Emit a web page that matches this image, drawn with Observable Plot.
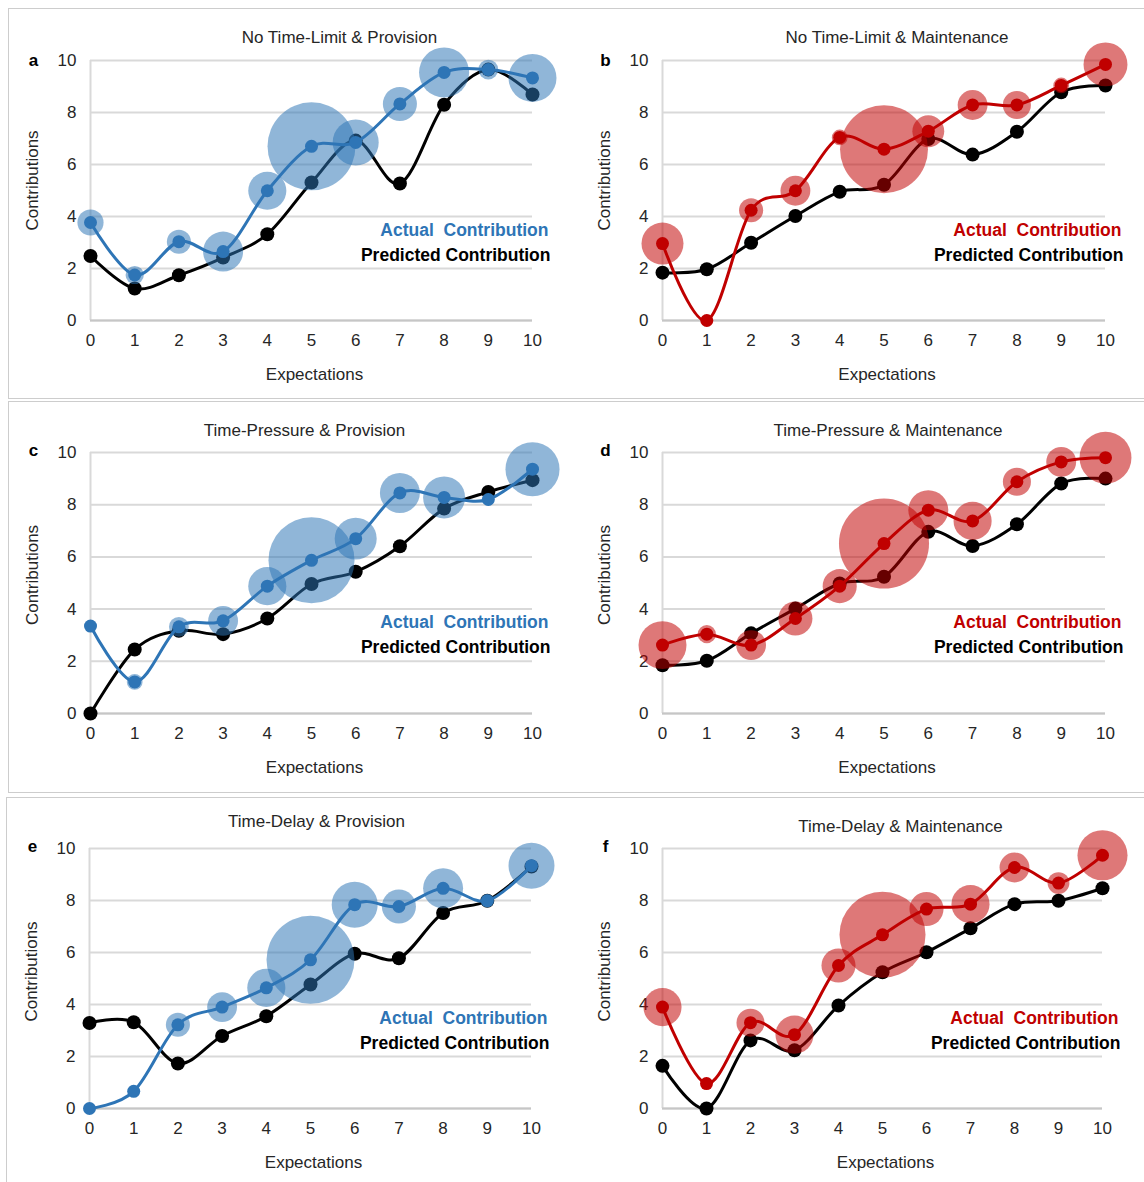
<!DOCTYPE html>
<html>
<head>
<meta charset="utf-8">
<script src="https://cdn.jsdelivr.net/npm/d3@7"></script>
<script src="https://cdn.jsdelivr.net/npm/@observablehq/plot@0.6"></script>
<style>
  body { margin: 0; background: #fff; font-family: "Liberation Sans", Arial, sans-serif; }
  #root { position: relative; width: 1144px; height: 1182px; overflow: hidden; background: #fff; }
  .box { position: absolute; border: 1.5px solid #cdcdcd; box-sizing: border-box; }
  .panel { position: absolute; width: 572px; }
  .panel svg { display: block; overflow: visible; }
</style>
</head>
<body>
<div id="root"></div>
<script>
// ---------- data ----------
const expectations = [0, 1, 2, 3, 4, 5, 6, 7, 8, 9, 10];
const yTicks = [0, 2, 4, 6, 8, 10];
const panelLetters = ["a", "b", "c", "d", "e", "f"];
const panelTitles = [
  "No Time-Limit & Provision", "No Time-Limit & Maintenance",
  "Time-Pressure & Provision", "Time-Pressure & Maintenance",
  "Time-Delay & Provision", "Time-Delay & Maintenance"
];
const xLabel = "Expectations";
const yLabel = "Contributions";
const actualLabel = "Actual  Contribution";
const predictedLabel = "Predicted Contribution";

// Actual contributions (coloured line), predicted (black line), share of participants (bubble size, %)
const actualA    = [3.77, 1.75, 3.03, 2.65, 4.99, 6.70, 6.85, 8.33, 9.54, 9.65, 9.33];
const predictedA = [2.48, 1.23, 1.74, 2.42, 3.32, 5.31, 6.92, 5.27, 8.30, 9.65, 8.69];
const shareA     = [3.3, 1.6, 2.8, 7.7, 7.0, 37.3, 10.2, 5.6, 12.1, 1.9, 11.1];

const actualB    = [2.96, 0.00, 4.24, 4.99, 7.04, 6.59, 7.28, 8.29, 8.29, 9.04, 9.85];
const predictedB = [1.84, 1.97, 2.99, 4.02, 4.95, 5.22, 6.98, 6.38, 7.26, 8.78, 9.04];
const shareB     = [8.5, 0.5, 2.8, 4.3, 1.2, 37.3, 4.9, 4.3, 3.8, 1.2, 9.3];

const actualC    = [3.35, 1.21, 3.32, 3.55, 4.88, 5.87, 6.70, 8.45, 8.28, 8.20, 9.36];
const predictedC = [0.00, 2.45, 3.17, 3.04, 3.64, 4.96, 5.43, 6.41, 7.85, 8.49, 8.94];
const shareC     = [0.5, 1.2, 1.9, 4.3, 7.0, 35.7, 8.5, 7.7, 8.5, 0.7, 14.1];

const actualD    = [2.62, 3.04, 2.62, 3.64, 4.88, 6.51, 7.79, 7.38, 8.88, 9.64, 9.80];
const predictedD = [1.85, 2.02, 3.07, 4.02, 4.98, 5.24, 6.96, 6.42, 7.25, 8.81, 9.00];
const shareD     = [11.1, 1.6, 4.3, 5.6, 5.6, 39.1, 7.7, 7.0, 3.8, 4.3, 13.0];

const actualE    = [0.00, 0.66, 3.22, 3.90, 4.64, 5.72, 7.84, 7.77, 8.47, 7.99, 9.34];
const predictedE = [3.29, 3.32, 1.73, 2.79, 3.55, 4.77, 5.95, 5.78, 7.52, 7.99, 9.31];
const shareE     = [0.5, 0.5, 2.8, 4.3, 7.0, 37.3, 10.2, 5.6, 7.7, 0.9, 10.2];

const actualF    = [3.90, 0.96, 3.30, 2.84, 5.50, 6.68, 7.67, 7.86, 9.27, 8.67, 9.74];
const predictedF = [1.64, 0.00, 2.62, 2.24, 3.96, 5.24, 6.01, 6.93, 7.86, 7.99, 8.47];
const shareF     = [7.0, 0.5, 3.8, 7.0, 5.6, 35.7, 5.6, 7.0, 4.3, 2.3, 12.1];

const actualSeries = [actualA, actualB, actualC, actualD, actualE, actualF];
const predictedSeries = [predictedA, predictedB, predictedC, predictedD, predictedE, predictedF];
const shareSeries = [shareA, shareB, shareC, shareD, shareE, shareF];

// ---------- styling / layout ----------
const BLUE = "#2e75b6";
const RED = "#c00000";
const colors = [BLUE, RED, BLUE, RED, BLUE, RED];
const FONT = "'Liberation Sans', Arial, sans-serif";

const rowsLayout = [
  { top: 0,   h: 400, mt: 60, mb: 80 },
  { top: 400, h: 395, mt: 52, mb: 82 },
  { top: 795, h: 387, mt: 53, mb: 74 }
];
const panelLayout = [
  { ml: 90, mr: 40, tdx: 28, tdy: -22.7, ldy: 0 },
  { ml: 90, mr: 39, tdx: 13, tdy: -22.7, ldy: 0 },
  { ml: 90, mr: 40, tdx: -7, tdy: -22.4, ldy: -1.5 },
  { ml: 90, mr: 39, tdx: 4,  tdy: -22.4, ldy: -1.5 },
  { ml: 89, mr: 41, tdx: 6,  tdy: -26.7, ldy: -1.5 },
  { ml: 90, mr: 42, tdx: 18, tdy: -22.4, ldy: -1.5 }
];
const yLabDy = [-10, -10, -8, -8, -7, -7];

const root = document.getElementById("root");

// row boxes
const boxes = [
  { left: 8, top: 8, width: 1150, height: 391 },
  { left: 8, top: 401, width: 1150, height: 392 },
  { left: 6, top: 797, width: 1150, height: 400 }
];
for (const b of boxes) {
  const d = document.createElement("div");
  d.className = "box";
  Object.assign(d.style, { left: b.left + "px", top: b.top + "px", width: b.width + "px", height: b.height + "px" });
  root.appendChild(d);
}

function makePanel(i) {
  const row = rowsLayout[Math.floor(i / 2)];
  const L = panelLayout[i];
  const color = colors[i];
  const data = expectations.map((e, k) => ({
    e, actual: actualSeries[i][k], predicted: predictedSeries[i][k], share: shareSeries[i][k]
  }));
  return Plot.plot({
    width: 572,
    height: row.h,
    marginTop: row.mt,
    marginBottom: row.mb,
    marginLeft: L.ml,
    marginRight: L.mr,
    style: { fontFamily: FONT, fontSize: "17px", color: "#262626", background: "transparent", overflow: "visible" },
    x: { domain: [0, 10] },
    y: { domain: [0, 10] },
    r: { type: "sqrt", domain: [0, 100], range: [0, 72] },
    marks: [
      Plot.gridY(yTicks, { stroke: "#d9d9d9", strokeWidth: 2, strokeOpacity: 1 }),
      Plot.ruleX([0], { stroke: "#d9d9d9", strokeWidth: 2 }),
      Plot.ruleY([0], { stroke: "#c6c6c6", strokeWidth: 2 }),
      Plot.axisY(yTicks, { tickSize: 0, tickPadding: 14, label: null, fontSize: 17, fill: "#262626" }),
      Plot.axisX(expectations, { tickSize: 0, tickPadding: 13, label: null, fontSize: 17, fill: "#262626" }),
      Plot.line(data, { x: "e", y: "predicted", stroke: "#000", strokeWidth: 3, curve: "cardinal" }),
      Plot.dot(data, { x: "e", y: "predicted", r: 7, fill: "#000" }),
      Plot.dot(data, { x: "e", y: "actual", r: "share", fill: color, fillOpacity: 0.53 }),
      Plot.line(data, { x: "e", y: "actual", stroke: color, strokeWidth: 3, curve: "cardinal" }),
      Plot.dot(data, { x: "e", y: "actual", r: 6.5, fill: color }),
      // title
      Plot.text([panelTitles[i]], { frameAnchor: "top", textAnchor: "middle", lineAnchor: "middle", dx: L.tdx, dy: L.tdy, fontSize: 17, fill: "#262626" }),
      // panel letter
      Plot.text([panelLetters[i]], { frameAnchor: "top-left", textAnchor: "middle", lineAnchor: "middle", dx: -57, dy: L.ldy, fontSize: 17, fontWeight: "bold", fill: "#000" }),
      // axis labels
      Plot.text([xLabel], { frameAnchor: "bottom", textAnchor: "middle", lineAnchor: "middle", dx: 3, dy: 54, fontSize: 17, fill: "#262626" }),
      Plot.text([yLabel], { frameAnchor: "left", textAnchor: "middle", lineAnchor: "middle", rotate: -90, dx: -58, dy: yLabDy[i], fontSize: 17, fill: "#262626" }),
      // legend
      Plot.text([actualLabel], { frameAnchor: "top-right", textAnchor: "end", lineAnchor: "middle", dx: 16, dy: 169.4, fontSize: 17.5, fontWeight: "bold", fill: color }),
      Plot.text([predictedLabel], { frameAnchor: "top-right", textAnchor: "end", lineAnchor: "middle", dx: 18, dy: 194.4, fontSize: 17.5, fontWeight: "bold", fill: "#000" })
    ]
  });
}

for (let i = 0; i < 6; i++) {
  const row = rowsLayout[Math.floor(i / 2)];
  const div = document.createElement("div");
  div.className = "panel";
  div.style.left = (i % 2) * 572 + "px";
  div.style.top = row.top + "px";
  div.appendChild(makePanel(i));
  root.appendChild(div);
}
</script>
</body>
</html>
